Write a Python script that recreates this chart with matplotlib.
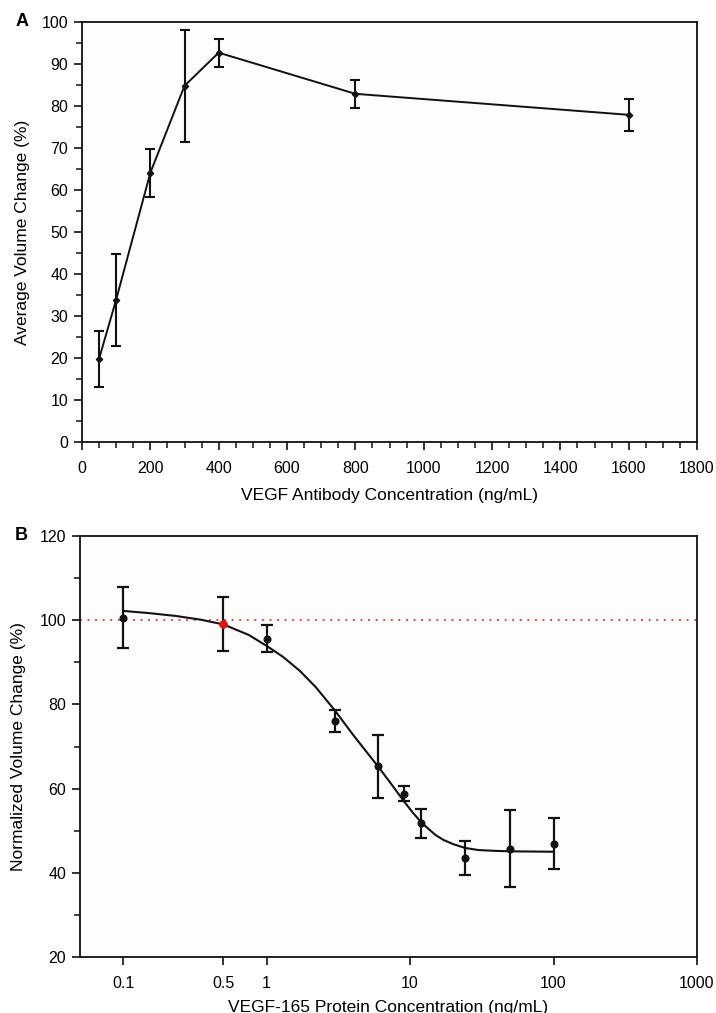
import matplotlib
matplotlib.use("Agg")
import matplotlib.pyplot as plt
from matplotlib.ticker import MultipleLocator, FixedLocator, NullLocator, FixedFormatter

# ---------------- data: panel A ----------------
a_conc = [50, 100, 200, 300, 400, 800, 1600]
a_mean = [19.8, 33.9, 64.1, 84.8, 92.7, 82.9, 77.9]
a_low = [13.0, 22.9, 58.3, 71.4, 89.4, 79.5, 74.1]
a_high = [26.4, 44.7, 69.7, 98.1, 96.0, 86.2, 81.7]

# ---------------- data: panel B ----------------
b_conc = [0.1, 0.5, 1, 3, 6, 9, 12, 24, 50, 100]
b_mean = [100.6, 99.1, 95.6, 76.0, 65.3, 58.8, 51.8, 43.5, 45.7, 46.8]
b_low = [93.5, 92.7, 92.5, 73.5, 57.7, 57.0, 48.3, 39.4, 36.6, 40.8]
b_high = [107.8, 105.5, 98.8, 78.6, 72.8, 60.6, 55.1, 47.6, 55.0, 52.9]
b_red_index = 1

# fitted curve
fit_conc = [0.1, 0.15, 0.234, 0.35, 0.5, 0.75, 1.0, 1.3, 1.7, 2.2, 3.0, 4.0, 5.0, 6.0,
            7.5, 9.0, 10.5, 12.1, 15, 17.1, 20, 24.2, 30, 40, 50, 100]
fit_val = [102.2, 101.7, 101.0, 100.1, 99.0, 96.5, 93.9, 91.3, 88.0, 84.1, 78.5, 72.8,
           68.6, 65.2, 60.8, 57.1, 54.2, 51.8, 49.0, 47.8, 46.8, 45.9, 45.4, 45.2, 45.1, 45.0]
reference_level = 100

b_xticks = [0.1, 0.5, 1, 10, 100, 1000]
b_xticklabels = ["0.1", "0.5", "1", "10", "100", "1000"]

plt.rcParams['font.family'] = ['Liberation Sans', 'DejaVu Sans']
plt.rcParams['font.size'] = 11.5

W, H = 716, 1013
fig = plt.figure(figsize=(W / 100, H / 100), dpi=100, facecolor='white')

bg = '#fdfdfb'
LABEL_FS = 12.5

def frac(x0, y0, x1, y1):
    return [x0 / W, 1 - y1 / H, (x1 - x0) / W, (y1 - y0) / H]

# ---------------- panel A ----------------
axA = fig.add_axes(frac(82, 22, 697, 442))
axA.set_facecolor(bg)
yerrA = [[m - l for m, l in zip(a_mean, a_low)], [h - m for m, h in zip(a_mean, a_high)]]
axA.errorbar(a_conc, a_mean, yerr=yerrA, color='#111111', lw=1.4, elinewidth=1.5,
             capsize=3.5, capthick=1.5, marker='D', markersize=3.2, zorder=3)
axA.set_xlim(0, 1800)
axA.set_ylim(0, 100)
axA.xaxis.set_major_locator(MultipleLocator(200))
axA.xaxis.set_minor_locator(MultipleLocator(50))
axA.yaxis.set_major_locator(MultipleLocator(10))
axA.yaxis.set_minor_locator(MultipleLocator(5))
axA.set_xlabel("VEGF Antibody Concentration (ng/mL)", labelpad=8, fontsize=LABEL_FS)
axA.set_ylabel("Average Volume Change (%)", labelpad=8, fontsize=LABEL_FS)
axA.text(-0.108, 1.0, "A", transform=axA.transAxes, fontsize=13, fontweight='bold',
         ha='left', va='center')

# ---------------- panel B ----------------
axB = fig.add_axes(frac(80, 536, 697, 957))
axB.set_facecolor(bg)
axB.set_xscale('log')
axB.axhline(reference_level, color='#e03030', lw=1.3, ls=(0, (1, 3.2)), zorder=1)
axB.plot(fit_conc, fit_val, color='#111111', lw=1.5, zorder=2, solid_joinstyle='round')
yerrB = [[m - l for m, l in zip(b_mean, b_low)], [h - m for m, h in zip(b_mean, b_high)]]
axB.errorbar(b_conc, b_mean, yerr=yerrB, fmt='o', color='#111111', markersize=4.8,
             elinewidth=1.6, capsize=4, capthick=1.6, zorder=3)
axB.plot([b_conc[b_red_index]], [b_mean[b_red_index]], 'o', color='#ee1111',
         markersize=5, zorder=4)
axB.set_xlim(0.05, 1000)
axB.set_ylim(20, 120)
axB.xaxis.set_major_locator(FixedLocator(b_xticks))
axB.xaxis.set_major_formatter(FixedFormatter(b_xticklabels))
axB.xaxis.set_minor_locator(NullLocator())
axB.yaxis.set_major_locator(MultipleLocator(20))
axB.yaxis.set_minor_locator(MultipleLocator(10))
axB.set_xlabel("VEGF-165 Protein Concentration (ng/mL)", labelpad=6, fontsize=LABEL_FS)
axB.set_ylabel("Normalized Volume Change (%)", labelpad=10, fontsize=LABEL_FS)
axB.text(-0.105, 1.0, "B", transform=axB.transAxes, fontsize=13, fontweight='bold',
         ha='left', va='center')

for ax in (axA, axB):
    for s in ax.spines.values():
        s.set_linewidth(1.3)
        s.set_color('#111111')
    ax.tick_params(which='both', direction='out', top=False, right=False, color='#111111')
    ax.tick_params(which='major', length=6, width=1.2, pad=4)
    ax.tick_params(which='minor', length=4, width=1.1)
axA.tick_params(axis='x', which='major', pad=8)
axB.tick_params(axis='x', which='major', pad=8)

fig.savefig("out.png", dpi=100, facecolor='white')
